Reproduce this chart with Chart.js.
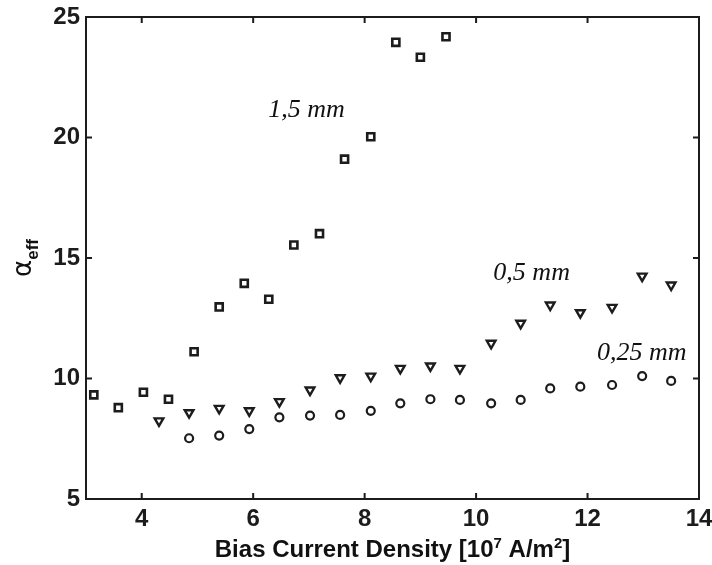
<!DOCTYPE html>
<html>
<head>
<meta charset="utf-8">
<script src="https://cdn.jsdelivr.net/npm/chart.js@4"></script>
<style>
  html, body { margin: 0; padding: 0; background: #fff; }
  #wrap { width: 712px; height: 565px; }
</style>
</head>
<body>
<div id="wrap"><canvas id="chart"></canvas></div>
<script>
// values (bias current density, alpha_eff)
const sqX = [3.14, 3.58, 4.03, 4.48, 4.94, 5.39, 5.84, 6.28, 6.73, 7.19, 7.64, 8.11, 8.56, 9.0, 9.46];
const sqY = [9.32, 8.79, 9.43, 9.14, 11.11, 12.97, 13.95, 13.29, 15.54, 16.01, 19.1, 20.03, 23.95, 23.33, 24.18];

const triX = [4.31, 4.85, 5.39, 5.93, 6.47, 7.02, 7.56, 8.11, 8.64, 9.18, 9.71, 10.27, 10.8, 11.33, 11.87, 12.44, 12.98, 13.5];
const triY = [8.24, 8.58, 8.76, 8.66, 9.04, 9.52, 10.03, 10.1, 10.42, 10.52, 10.42, 11.46, 12.29, 13.05, 12.73, 12.95, 14.25, 13.88];

const circX = [4.85, 5.39, 5.93, 6.47, 7.02, 7.56, 8.11, 8.64, 9.18, 9.71, 10.27, 10.8, 11.33, 11.87, 12.44, 12.98, 13.5];
const circY = [7.52, 7.63, 7.9, 8.39, 8.46, 8.49, 8.66, 8.97, 9.14, 9.11, 8.97, 9.11, 9.59, 9.66, 9.73, 10.1, 9.9];

const xTicks = [4, 6, 8, 10, 12, 14];
const yTicks = [5, 10, 15, 20, 25];

const seriesNames = ['1,5 mm', '0,5 mm', '0,25 mm'];
// where the series names sit, in data units (left edge, middle)
const nameSpots = [[6.27, 21.14], [10.31, 14.38], [12.17, 11.06]];

const ink = '#1c1c1c';

function pts(xs, ys) {
  return xs.map((x, i) => ({ x: x, y: ys[i] }));
}

const frame = {
  id: 'frame',
  beforeDatasetsDraw(chart) {
    const { ctx, chartArea: a, scales: { x, y } } = chart;
    ctx.save();
    ctx.strokeStyle = ink;
    ctx.lineWidth = 2;
    ctx.strokeRect(a.left, a.top, a.right - a.left, a.bottom - a.top);
    const t = 6;
    ctx.beginPath();
    xTicks.forEach(v => {
      const px = x.getPixelForValue(v);
      ctx.moveTo(px, a.bottom); ctx.lineTo(px, a.bottom - t);
      ctx.moveTo(px, a.top); ctx.lineTo(px, a.top + t);
    });
    yTicks.forEach(v => {
      const py = y.getPixelForValue(v);
      ctx.moveTo(a.left, py); ctx.lineTo(a.left + t, py);
      ctx.moveTo(a.right, py); ctx.lineTo(a.right - t, py);
    });
    ctx.stroke();
    ctx.restore();
  },
  afterDraw(chart) {
    const { ctx, chartArea: a, scales: { x, y } } = chart;
    ctx.save();
    ctx.fillStyle = '#111';

    // series names
    ctx.font = 'italic 26px "Liberation Serif", "Times New Roman", serif';
    ctx.textBaseline = 'middle';
    ctx.textAlign = 'left';
    seriesNames.forEach((s, i) => {
      ctx.fillText(s, x.getPixelForValue(nameSpots[i][0]), y.getPixelForValue(nameSpots[i][1]));
    });

    // x title with superscripts
    const big = 'bold 24px "Liberation Sans", Arial, sans-serif';
    const small = 'bold 15px "Liberation Sans", Arial, sans-serif';
    const parts = [['Bias Current Density [10', big, 0], ['7', small, -9], [' A/m', big, 0], ['2', small, -9], [']', big, 0]];
    let w = 0;
    parts.forEach(p => { ctx.font = p[1]; w += ctx.measureText(p[0]).width; });
    let cx = (a.left + a.right) / 2 - w / 2;
    const by = 557;
    ctx.textBaseline = 'alphabetic';
    parts.forEach(p => {
      ctx.font = p[1];
      ctx.fillText(p[0], cx, by + p[2]);
      cx += ctx.measureText(p[0]).width;
    });

    // y title: alpha with subscript eff
    ctx.translate(35, (a.top + a.bottom) / 2);
    ctx.rotate(-Math.PI / 2);
    ctx.font = '26px "DejaVu Sans", sans-serif';
    const aw = ctx.measureText('\u03b1').width;
    ctx.font = 'bold 17px "Liberation Sans", Arial, sans-serif';
    const ew = ctx.measureText('eff').width;
    let sx = -(aw + ew) / 2;
    ctx.font = '26px "DejaVu Sans", sans-serif';
    ctx.fillText('\u03b1', sx, -4);
    ctx.font = 'bold 17px "Liberation Sans", Arial, sans-serif';
    ctx.fillText('eff', sx + aw, 3);
    ctx.restore();
  }
};

const tickFont = { family: '"Liberation Sans", Arial, sans-serif', size: 24, weight: 'bold' };

new Chart(document.getElementById('chart'), {
  type: 'scatter',
  data: {
    datasets: [
      {
        label: seriesNames[0],
        data: pts(sqX, sqY),
        pointStyle: 'rect',
        pointRadius: 5,
        pointBorderWidth: 2.6,
        borderColor: ink,
        backgroundColor: 'rgba(0,0,0,0)'
      },
      {
        label: seriesNames[1],
        data: pts(triX, triY),
        pointStyle: 'triangle',
        pointRotation: 180,
        pointRadius: 5,
        pointBorderWidth: 2.4,
        borderColor: ink,
        backgroundColor: 'rgba(0,0,0,0)'
      },
      {
        label: seriesNames[2],
        data: pts(circX, circY),
        pointStyle: 'circle',
        pointRadius: 4,
        pointBorderWidth: 2.2,
        borderColor: ink,
        backgroundColor: 'rgba(0,0,0,0)'
      }
    ]
  },
  options: {
    responsive: true,
    maintainAspectRatio: false,
    animation: false,
    layout: { padding: { top: 17, right: 13, left: 0, bottom: 0 } },
    plugins: {
      legend: { display: false },
      tooltip: { enabled: false }
    },
    scales: {
      x: {
        type: 'linear',
        min: 3,
        max: 14,
        afterBuildTicks: s => { s.ticks = xTicks.map(v => ({ value: v })); },
        afterFit: s => { s.height = 66; s.paddingLeft = 0; s.paddingRight = 0; },
        grid: { display: false, drawTicks: false },
        border: { display: false },
        ticks: { font: tickFont, color: ink, padding: 6, maxRotation: 0 }
      },
      y: {
        type: 'linear',
        min: 5,
        max: 25,
        afterBuildTicks: s => { s.ticks = yTicks.map(v => ({ value: v })); },
        afterFit: s => { s.width = 86; s.paddingTop = 0; s.paddingBottom = 0; },
        grid: { display: false, drawTicks: false },
        border: { display: false },
        ticks: { font: tickFont, color: ink, padding: 6 }
      }
    }
  },
  plugins: [frame]
});
</script>
</body>
</html>
